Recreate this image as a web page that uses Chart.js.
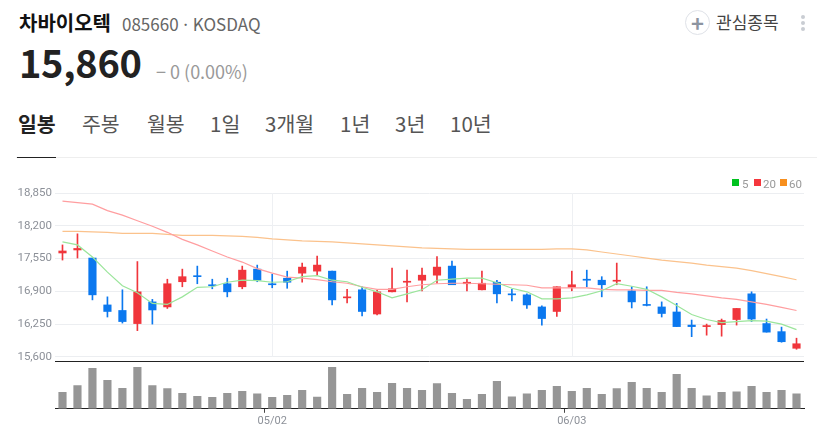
<!DOCTYPE html>
<html lang="ko">
<head>
<meta charset="utf-8">
<title>차바이오텍</title>
<script src="https://cdn.jsdelivr.net/npm/chart.js@4"></script>
<style>
  html, body { margin: 0; padding: 0; background: #fff; }
  body { width: 817px; height: 428px; position: relative; overflow: hidden; font-family: "Noto Sans CJK KR", "Noto Sans", sans-serif; color: #222; }
  .abs { position: absolute; white-space: nowrap; line-height: 1; }
  #name { left: 19px; top: 13px; font-size: 20px; font-weight: 700; color: #111; }
  #code { left: 122px; top: 15px; font-size: 17px; color: #666; }
  #price { left: 19px; top: 43px; font-size: 38px; font-weight: 700; color: #222; letter-spacing: -0.3px; }
  #change { left: 156px; top: 62px; font-size: 18px; color: #999; }
  #plus { left: 685px; top: 10px; width: 23px; height: 23px; border: 1px solid #dfe2e8; border-radius: 50%; text-align: center; line-height: 22px; font-size: 22px; font-weight: 700; color: #8c94a0; }
  #watch { left: 716px; top: 13px; font-size: 17px; color: #444; }
  .dot { left: 801px; width: 4px; height: 4px; border-radius: 50%; background: #c9cdd3; }
  .tab { top: 113px; font-size: 20.5px; color: #555; }
  .tab.on { font-weight: 700; color: #222; }
  #tabline { left: 16px; top: 157px; width: 801px; height: 1px; background: #eee; }
  #tabmark { left: 17px; top: 157px; width: 39px; height: 1px; background: #222; }
  #wrap { position: absolute; left: 0; top: 170px; width: 817px; height: 260px; }
  .key { top: 179px; width: 7px; height: 7px; }
  .keytext { top: 177px; font: 11.5px Roboto, sans-serif; color: #999; }
</style>
</head>
<body>
  <div class="abs" id="name">차바이오텍</div>
  <div class="abs" id="code">085660 · KOSDAQ</div>
  <div class="abs" id="price">15,860</div>
  <div class="abs" id="change">− 0 (0.00%)</div>
  <div class="abs" id="plus">+</div>
  <div class="abs" id="watch">관심종목</div>
  <div class="abs dot" style="top:15px"></div>
  <div class="abs dot" style="top:21px"></div>
  <div class="abs dot" style="top:27px"></div>
  <div class="abs tab on" style="left:18px">일봉</div>
  <div class="abs tab" style="left:82px">주봉</div>
  <div class="abs tab" style="left:147px">월봉</div>
  <div class="abs tab" style="left:210px">1일</div>
  <div class="abs tab" style="left:265px">3개월</div>
  <div class="abs tab" style="left:340px">1년</div>
  <div class="abs tab" style="left:395px">3년</div>
  <div class="abs tab" style="left:450px">10년</div>
  <div class="abs" id="tabline"></div>
  <div class="abs" id="tabmark"></div>
  <div id="wrap"><canvas id="stock"></canvas></div>
  <div class="abs key" style="left:732px;background:#00c21f"></div>
  <div class="abs keytext" style="left:742px">5</div>
  <div class="abs key" style="left:754px;background:#f5373d"></div>
  <div class="abs keytext" style="left:763px">20</div>
  <div class="abs key" style="left:780px;background:#f78f1e"></div>
  <div class="abs keytext" style="left:789px">60</div>

<script>
// 일봉 데이터
const dates = [
  '04/11','04/12','04/15','04/16','04/17','04/18','04/19','04/22','04/23','04/24',
  '04/25','04/26','04/29','04/30','05/02','05/03','05/07','05/08','05/09','05/10',
  '05/13','05/14','05/16','05/17','05/20','05/21','05/22','05/23','05/24','05/27',
  '05/28','05/29','05/30','05/31','06/03','06/04','06/05','06/07','06/10','06/11',
  '06/12','06/13','06/14','06/17','06/18','06/19','06/20','06/21','06/24','06/25'
];
const xTickLabels = ['05/02', '06/03'];
const priceTicks = [15600, 16250, 16900, 17550, 18200, 18850];

const opens = [
  17660,17720,17560,16630,16520,16260,16690,16590,17090,17210,
  17030,17050,16990,17340,17050,17160,17260,17300,17300,16770,
  16930,16450,16890,17080,17120,17220,17400,17050,16930,17080,
  16850,16830,16590,16500,16980,17140,17120,17100,16910,16640,
  16590,16490,16230,16200,16240,16340,16850,16260,16100,15770
];
const highs = [
  17820,18040,17560,16790,16930,17490,16740,17140,17340,17400,
  17140,17160,17400,17420,17240,17300,17460,17600,17300,16940,
  16990,16920,17360,17320,17360,17590,17500,17140,17300,17120,
  16940,16850,16610,16990,17300,17320,17190,17460,16990,16990,
  16690,16660,16330,16250,16350,16560,16890,16350,16190,15970
];
const lows = [
  17520,17560,16730,16390,16270,16120,16250,16560,16990,17050,
  16950,16790,16950,17090,16970,16960,17080,17220,16630,16670,
  16410,16430,16890,16690,16910,17060,17030,16910,16930,16670,
  16710,16560,16230,16400,16910,16990,16790,17030,16570,16610,
  16390,16200,16000,16030,16010,16230,16300,16090,15890,15750
];
const closes = [
  17700,17750,16830,16500,16300,16890,16530,17050,17190,17190,
  17010,16890,17320,17120,17030,17080,17380,17420,16730,16790,
  16500,16890,16950,17100,17220,17380,17030,17080,17060,16850,
  16830,16630,16360,16990,17030,17120,17030,17120,16690,16620,
  16460,16200,16200,16220,16320,16560,16350,16090,15900,15860
];
const ma5 = [
  17880,17820,17580,17280,17010,16870,16660,16640,16790,16980,
  16990,17080,17120,17110,17080,17090,17190,17210,17120,17090,
  16980,16890,16770,16850,16930,17120,17140,17160,17160,17070,
  16960,16890,16750,16750,16770,16830,16910,17050,17000,16940,
  16790,16620,16440,16340,16280,16300,16320,16310,16250,16140
];
const ma20 = [
  18690,18660,18630,18500,18410,18300,18190,18070,17930,17820,
  17700,17580,17480,17350,17260,17180,17160,17130,17090,17060,
  16990,16940,16940,16990,17030,17050,17060,17060,17050,17040,
  17030,17020,16970,16970,16970,16970,16940,16930,16930,16920,
  16920,16880,16850,16810,16770,16740,16690,16640,16580,16520
];
const ma60 = [
  18090,18090,18080,18070,18050,18050,18050,18030,18010,18010,
  18010,18000,17990,17970,17940,17920,17900,17890,17880,17860,
  17840,17820,17800,17780,17760,17750,17740,17730,17730,17730,
  17730,17730,17730,17740,17740,17720,17680,17640,17600,17560,
  17520,17490,17460,17420,17390,17360,17310,17250,17190,17130
];
const volumes = [
  49,69,121,85,61,124,69,60,46,37,
  34,46,52,45,34,40,55,35,124,43,
  61,49,76,61,55,75,46,28,43,82,
  36,45,55,67,52,61,43,60,79,61,
  49,103,61,39,49,51,67,49,55,45
];

const UP = '#f0353b';
const DOWN = '#0b78ef';
const candleColor = opens.map((o, i) => closes[i] >= o ? UP : DOWN);

// 날짜 세로선은 가격 영역에만 그린다
const dateLines = {
  id: 'dateLines',
  beforeDatasetsDraw(chart) {
    const { ctx, scales } = chart;
    ctx.save();
    ctx.strokeStyle = '#eef0f3';
    ctx.lineWidth = 1;
    xTickLabels.forEach(label => {
      const x = Math.round(scales.x.getPixelForValue(dates.indexOf(label))) + 0.5;
      ctx.beginPath();
      ctx.moveTo(x, scales.price.getPixelForValue(priceTicks[5]));
      ctx.lineTo(x, scales.price.getPixelForValue(priceTicks[0]));
      ctx.stroke();
    });
    ctx.restore();
  }
};

function maLine(label, values, color) {
  return {
    type: 'line', label, data: values, yAxisID: 'price', order: 0,
    borderColor: color, borderWidth: 1.2,
    pointRadius: 0, tension: 0
  };
}

new Chart(document.getElementById('stock'), {
  data: {
    labels: dates,
    datasets: [
      maLine('5', ma5, '#9be59b'),
      maLine('20', ma20, '#ff9ea0'),
      maLine('60', ma60, '#fbc28c'),
      {
        type: 'bar', label: 'body', yAxisID: 'price', order: 1, grouped: false,
        data: opens.map((o, i) => [o, closes[i]]),
        backgroundColor: candleColor, barThickness: 7.5
      },
      {
        type: 'bar', label: 'wick', yAxisID: 'price', order: 2, grouped: false,
        data: lows.map((l, i) => [l, highs[i]]),
        backgroundColor: candleColor, barThickness: 1
      },
      {
        type: 'bar', label: 'volume', yAxisID: 'vol', order: 3, grouped: false,
        data: volumes, backgroundColor: '#969696', barThickness: 7.5
      }
    ]
  },
  options: {
    responsive: true,
    maintainAspectRatio: false,
    animation: false,
    layout: { padding: { right: 13, top: 23 } },
    plugins: {
      tooltip: { enabled: false },
      legend: { display: false }
    },
    scales: {
      x: {
        grid: {
          drawOnChartArea: false, tickLength: 4,
          tickColor: c => xTickLabels.includes(dates[c.index]) ? '#444' : 'transparent'
        },
        border: { color: '#222' },
        ticks: {
          autoSkip: false, maxRotation: 0, padding: 2,
          color: '#8c9098', font: { family: 'Roboto', size: 11 },
          callback: (v, i) => xTickLabels.includes(dates[i]) ? dates[i] : ''
        }
      },
      price: {
        position: 'left', stack: 'panel', stackWeight: 168.5, weight: 2,
        min: 15500, max: 18850,
        afterBuildTicks: s => { s.ticks = priceTicks.map(value => ({ value })); },
        afterFit: s => { s.width = 55; },
        grid: { color: '#eceef1', drawTicks: false },
        border: { display: false },
        ticks: {
          padding: 3, color: '#8c9098', font: { family: 'Roboto', size: 11.5 },
          callback: v => v.toLocaleString('en-US')
        }
      },
      vol: {
        position: 'left', stack: 'panel', stackWeight: 46.8, weight: 1,
        min: 0, max: 140,
        afterBuildTicks: s => { s.ticks = [{ value: 0 }, { value: 140 }]; },
        afterFit: s => { s.width = 55; },
        grid: { color: '#222', drawTicks: false },
        border: { display: false },
        ticks: { display: false }
      }
    }
  },
  plugins: [dateLines]
});
</script>
</body>
</html>
